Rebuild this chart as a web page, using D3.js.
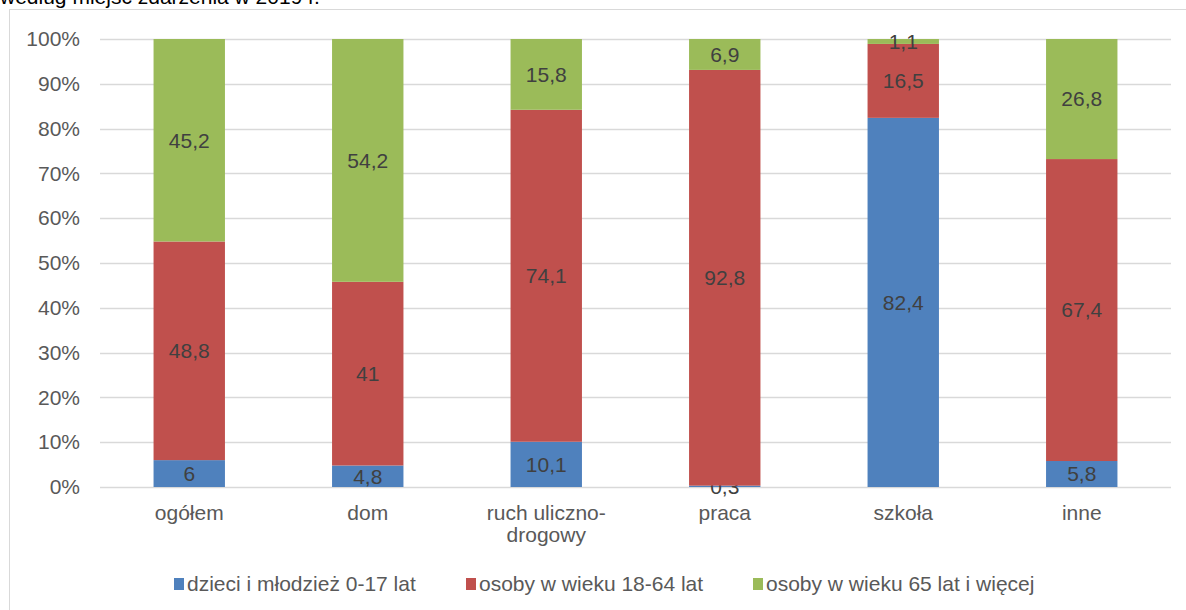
<!DOCTYPE html>
<html>
<head>
<meta charset="utf-8">
<script src="https://cdn.jsdelivr.net/npm/d3@7"></script>
<style>
  html, body { margin: 0; padding: 0; background: #fff; }
  svg { display: block; font-family: "Liberation Sans", Arial, sans-serif; }
</style>
</head>
<body>
<svg id="chart" width="1186" height="610"></svg>
<script>
// Places of accidents and age-group shares (percent)
const categories = ["ogółem", "dom", "ruch uliczno-drogowy", "praca", "szkoła", "inne"];
const categoryLines = [["ogółem"], ["dom"], ["ruch uliczno-", "drogowy"], ["praca"], ["szkoła"], ["inne"]];
const seriesNames = ["dzieci i młodzież 0-17 lat", "osoby w wieku 18-64 lat", "osoby w wieku 65 lat i więcej"];
const children = [6, 4.8, 10.1, 0.3, 82.4, 5.8];
const adults = [48.8, 41, 74.1, 92.8, 16.5, 67.4];
const seniors = [45.2, 54.2, 15.8, 6.9, 1.1, 26.8];
const yTicks = [0, 0.1, 0.2, 0.3, 0.4, 0.5, 0.6, 0.7, 0.8, 0.9, 1];
const colors = ["#4F81BD", "#C0504D", "#9BBB59"];

const FS = 21;
const svg = d3.select("#chart");

// Title line above the frame (partly off the top)
svg.append("text")
  .attr("x", 0).attr("y", 4)
  .attr("font-size", FS).attr("fill", "#000")
  .text("według miejsc zdarzenia w 2019 r.");

// Chart frame
svg.append("rect")
  .attr("x", 9.5).attr("y", 9.5)
  .attr("width", 1186).attr("height", 610)
  .attr("fill", "none").attr("stroke", "#d9d9d9").attr("stroke-width", 1);

const plotLeft = 100, plotRight = 1171, plotTop = 39, plotBottom = 487;

const x = d3.scaleBand().domain(categories).range([plotLeft, plotRight]).paddingInner(0.6).paddingOuter(0.3);
const y = d3.scaleLinear().domain([0, 1]).range([plotBottom, plotTop]);

// Gridlines
svg.append("g")
  .selectAll("line").data(yTicks).join("line")
  .attr("x1", plotLeft).attr("x2", plotRight)
  .attr("y1", d => Math.round(y(d)) + 0.5).attr("y2", d => Math.round(y(d)) + 0.5)
  .attr("stroke", "#d9d9d9").attr("stroke-width", 1.5);

// Y axis labels
const yAxis = d3.axisLeft(y).tickValues(yTicks).tickFormat(d3.format(".0%")).tickSize(0).tickPadding(0);
svg.append("g")
  .attr("transform", `translate(80,0)`)
  .call(yAxis)
  .call(g => g.select(".domain").remove())
  .call(g => g.selectAll("text")
    .attr("font-family", "Liberation Sans, Arial, sans-serif")
    .attr("font-size", FS).attr("fill", "#595959"));

// Stack data
const rows = categories.map((c, i) => ({ cat: c, s0: children[i], s1: adults[i], s2: seniors[i] }));
const stack = d3.stack().keys(["s0", "s1", "s2"]);
const layers = stack(rows);

const fmt = v => String(v).replace(".", ",");

layers.forEach((layer, li) => {
  const g = svg.append("g");
  g.selectAll("rect").data(layer).join("rect")
    .attr("x", d => x(d.data.cat))
    .attr("width", x.bandwidth())
    .attr("y", d => y(d[1] / 100))
    .attr("height", d => y(d[0] / 100) - y(d[1] / 100))
    .attr("fill", colors[li]);
  g.selectAll("text").data(layer).join("text")
    .attr("x", d => x(d.data.cat) + x.bandwidth() / 2)
    .attr("y", d => y((d[0] + d[1]) / 200))
    .attr("dy", "0.35em")
    .attr("text-anchor", "middle")
    .attr("font-size", FS).attr("fill", "#404040")
    .text(d => fmt(d.data["s" + li]));
});

// X axis labels
const xl = svg.append("g");
categories.forEach((c, i) => {
  const t = xl.append("text")
    .attr("x", x(c) + x.bandwidth() / 2)
    .attr("y", 520)
    .attr("text-anchor", "middle")
    .attr("font-size", FS).attr("fill", "#595959");
  categoryLines[i].forEach((line, k) => {
    t.append("tspan").attr("x", x(c) + x.bandwidth() / 2).attr("dy", k === 0 ? 0 : 22).text(line);
  });
});

// Legend
const legendX = [174, 466, 753];
const lg = svg.append("g");
seriesNames.forEach((name, i) => {
  lg.append("rect").attr("x", legendX[i]).attr("y", 578).attr("width", 10).attr("height", 12).attr("fill", colors[i]);
  lg.append("text").attr("x", legendX[i] + 13).attr("y", 591)
    .attr("font-size", FS).attr("fill", "#595959").text(name);
});
</script>
</body>
</html>
